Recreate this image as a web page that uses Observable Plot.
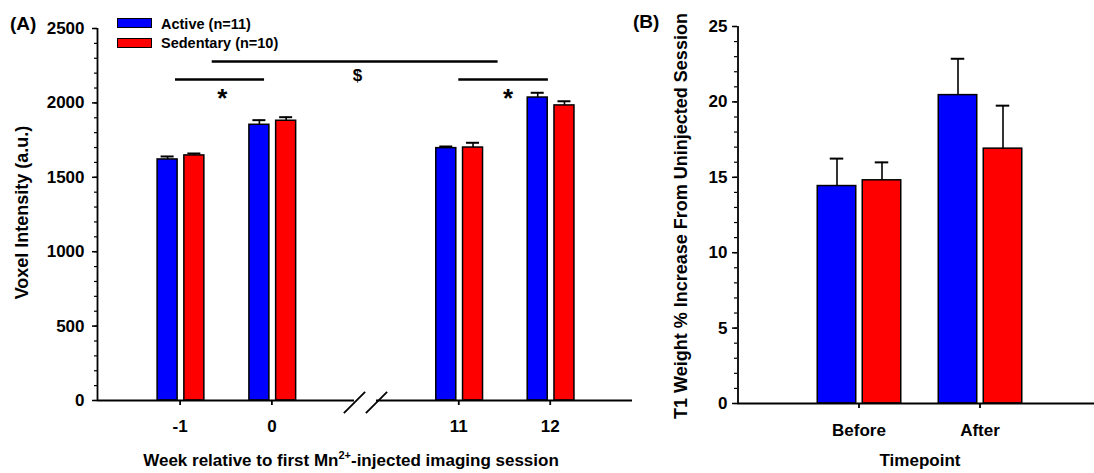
<!DOCTYPE html>
<html><head><meta charset="utf-8">
<script src="https://cdn.jsdelivr.net/npm/d3@7"></script>
<script src="https://cdn.jsdelivr.net/npm/@observablehq/plot@0.6"></script>
<style>
html,body{margin:0;padding:0;background:#fff;}
#wrap{position:relative;width:1094px;height:473px;overflow:hidden;font-family:"Liberation Sans",Arial,sans-serif;font-weight:bold;color:#000;}
.abs{position:absolute;white-space:nowrap;line-height:1;}
.sw{position:absolute;width:33px;height:8px;border:1.6px solid #000;}
#panelA,#panelB{position:absolute;top:0;}
#panelA{left:0;} #panelB{left:640px;}
</style></head><body>
<div id="wrap">
  <div id="panelA"></div>
  <div id="panelB"></div>
</div>
<script>
// ---------- data ----------
const groups = ["Active (n=11)", "Sedentary (n=10)"];
const groupColors = ["#0000ff", "#ff0000"];
// Panel A: voxel intensity by week
const weeks = [-1, 0, 11, 12];
const activeVoxel = [1620, 1853, 1696, 2036];
const activeVoxelSE = [20, 31, 11, 32];
const sedentaryVoxel = [1647, 1880, 1700, 1983];
const sedentaryVoxelSE = [13, 24, 32, 28];
const voxelTicks = [0, 500, 1000, 1500, 2000, 2500];
// significance annotations (panel A)
const sigLineX1 = [-0.65, -1.05, 11.0];
const sigLineX2 = [11.43, -0.08, 11.98];
const sigLineY = [2278, 2157, 2157];
const sigLabel = ["$", "*", "*"];
const sigLabelX = [2.15, -0.54, 11.54];
const sigLabelY = [2184, 2030, 2030];
// Panel B: T1 weight % increase
const timepoints = ["Before", "After"];
const activeT1 = [14.42, 20.45];
const activeT1SE = [1.82, 2.41];
const sedentaryT1 = [14.80, 16.90];
const sedentaryT1SE = [1.19, 2.85];
const t1Ticks = [0, 5, 10, 15, 20, 25];

// ---------- helpers ----------
const FONT = '"Liberation Sans", Arial, sans-serif';
const svgStyle = {fontFamily: FONT, fontSize: "17px", fontWeight: "bold", color: "#000", background: "#fff"};
const slashSymbol = {draw(ctx, size) { const s = Math.sqrt(size) / 2; ctx.moveTo(-s, s); ctx.lineTo(s, -s); }};

// ---------- Panel A ----------
const xA = {type: "linear", domain: [-1.9, 0.9, 10.1, 12.9], range: [97, 354, 376, 632], axis: null};
const rowsA = [
  weeks.map((w, i) => ({week: w, v: activeVoxel[i], se: activeVoxelSE[i]})),
  weeks.map((w, i) => ({week: w, v: sedentaryVoxel[i], se: sedentaryVoxelSE[i]}))
];
const dxA = [-12.5, 14.25];
const sigLines = sigLineX1.map((x1, i) => ({x1, x2: sigLineX2[i], y: sigLineY[i]}));
const sigTexts = sigLabel.map((t, i) => ({t, x: sigLabelX[i], y: sigLabelY[i]}));

const barMarksA = rowsA.flatMap((data, g) => [
  Plot.rect(data, {x1: "week", x2: "week", y1: 0, y2: "v", fill: groupColors[g], stroke: "black", strokeWidth: 1.5, insetLeft: -10, insetRight: -10, dx: dxA[g]}),
  Plot.ruleX(data, {x: "week", y1: "v", y2: d => d.v + d.se, stroke: "black", strokeWidth: 1.6, dx: dxA[g]}),
  Plot.ruleY(data, {x1: "week", x2: "week", y: d => d.v + d.se, stroke: "black", strokeWidth: 2, insetLeft: -6.5, insetRight: -6.5, dx: dxA[g]})
]);

const plotA = Plot.plot({
  width: 640, height: 473,
  marginLeft: 97, marginRight: 8, marginTop: 28, marginBottom: 73,
  style: svgStyle,
  x: xA,
  y: {domain: [0, 2500], axis: null},
  marks: [
    ...barMarksA,
    Plot.ruleX([xA.domain[0]], {y1: 0, y2: 2500, stroke: "black", strokeWidth: 1.8}),
    Plot.ruleY([0], {x1: xA.domain[0], x2: xA.domain[1], stroke: "black", strokeWidth: 1.8}),
    Plot.ruleY([0], {x1: xA.domain[2], x2: xA.domain[3], stroke: "black", strokeWidth: 1.8}),
    Plot.dot([xA.domain[1], xA.domain[2]], {x: d => d, y: 0, dy: 2, symbol: slashSymbol, r: 12, fill: "none", stroke: "black", strokeWidth: 1.8}),
    Plot.axisY(d3.range(0, 2501, 100), {anchor: "left", tickSize: 3, tickFormat: () => "", label: null, strokeWidth: 1.2}),
    Plot.axisY(voxelTicks, {anchor: "left", tickSize: 5, tickPadding: 8, tickFormat: d => String(d), label: null, strokeWidth: 1.5, fontSize: 17}),
    Plot.axisX(weeks, {anchor: "bottom", tickSize: 5, tickPadding: 14, tickFormat: d => String(d), label: null, strokeWidth: 1.8, fontSize: 17}),
    Plot.ruleY(sigLines, {x1: "x1", x2: "x2", y: "y", stroke: "black", strokeWidth: 2.6}),
    Plot.text(sigTexts.filter(d => d.t === "*"), {x: "x", y: "y", text: "t", fontSize: 26, fontWeight: "bold"}),
    Plot.text(sigTexts.filter(d => d.t === "$"), {x: "x", y: "y", text: "t", fontSize: 17, fontWeight: "bold"}),
    Plot.text(["Voxel Intensity (a.u.)"], {frameAnchor: "left", textAnchor: "middle", rotate: -90, dx: -75, dy: -2, fontSize: 18, fontWeight: "bold"})
  ]
});
document.getElementById("panelA").appendChild(plotA);

// ---------- Panel B ----------
const rowsB = [
  timepoints.map((t, i) => ({t, v: activeT1[i], se: activeT1SE[i]})),
  timepoints.map((t, i) => ({t, v: sedentaryT1[i], se: sedentaryT1SE[i]}))
];
const dxB = [-22, 23];
const barMarksB = rowsB.flatMap((data, g) => [
  Plot.barY(data, {x: "t", y: "v", fill: groupColors[g], stroke: "black", strokeWidth: 1.5, insetLeft: 11.25, insetRight: 11.25, dx: dxB[g]}),
  Plot.ruleX(data, {x: "t", y1: "v", y2: d => d.v + d.se, stroke: "black", strokeWidth: 1.6, dx: dxB[g]}),
  Plot.tickY(data, {x: "t", y: d => d.v + d.se, stroke: "black", strokeWidth: 2, insetLeft: 23.75, insetRight: 23.75, dx: dxB[g]})
]);

const plotB = Plot.plot({
  width: 454, height: 473,
  marginLeft: 97, marginRight: 0, marginTop: 26, marginBottom: 70,
  style: svgStyle,
  x: {type: "band", domain: timepoints, range: [97, 460], paddingInner: 0.5, paddingOuter: 0.75, axis: null},
  y: {domain: [0, 25], axis: null},
  marks: [
    ...barMarksB,
    Plot.ruleX([timepoints[0]], {y1: 0, y2: 25, dx: -121, stroke: "black", strokeWidth: 1.8}),
    Plot.ruleY([0], {stroke: "black", strokeWidth: 1.8}),
    Plot.axisY(d3.range(0, 26, 1), {anchor: "left", tickSize: 3, tickFormat: () => "", label: null, strokeWidth: 1.2}),
    Plot.axisY(t1Ticks, {anchor: "left", tickSize: 5, tickPadding: 5, tickFormat: d => String(d), label: null, strokeWidth: 1.5, fontSize: 17}),
    Plot.axisX(timepoints, {anchor: "bottom", tickSize: 5, tickPadding: 15, label: null, strokeWidth: 1.8, fontSize: 17}),
    Plot.text(["T1 Weight % Increase From Uninjected Session"], {frameAnchor: "left", textAnchor: "middle", rotate: -90, dx: -56, dy: 1, fontSize: 18, fontWeight: "bold"})
  ]
});
document.getElementById("panelB").appendChild(plotB);

// ---------- HTML annotations: panel labels, legend, x titles ----------
const wrap = document.getElementById("wrap");
function addText(html, left, top, size, extra = "") {
  const d = document.createElement("div");
  d.className = "abs";
  d.style.cssText = `left:${left}px;top:${top}px;font-size:${size}px;${extra}`;
  d.innerHTML = html;
  wrap.appendChild(d);
  return d;
}
addText("(A)", 10, 14, 19);
addText("(B)", 633, 12, 19);
groups.forEach((g, i) => {
  const sw = document.createElement("div");
  sw.className = "sw";
  sw.style.left = "117px";
  sw.style.top = (18 + i * 19.5) + "px";
  sw.style.background = groupColors[i];
  wrap.appendChild(sw);
  addText(g, 161, 17 + i * 18.5, 14.5);
});
addText('Week relative to first Mn<span style="font-size:11px;position:relative;top:-7px;">2+</span>-injected imaging session', 351, 452, 17, "transform:translateX(-50%);");
addText("Timepoint", 920, 452, 17, "transform:translateX(-50%);");
</script>
</body></html>
